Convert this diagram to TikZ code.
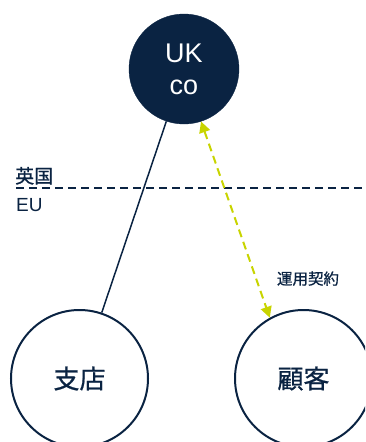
\documentclass[tikz,border=0pt]{standalone}
\usepackage{fontspec}
\setmainfont{Liberation Sans}
\newfontfamily\jp[FakeBold=0.8]{Noto Sans CJK JP}
\usetikzlibrary{arrows.meta}
\definecolor{navy}{HTML}{0A2342}
\definecolor{lime}{HTML}{C8D400}
\tikzset{
  entity/.style={circle, draw=navy, line width=2pt, inner sep=0pt, text=navy},
  company/.style={circle, fill=navy, draw=navy, inner sep=0pt, text=white, align=center, font=\fontsize{27}{32}\selectfont},
  tag/.style={text=navy, inner sep=0pt},
  link/.style={draw=navy, line width=1.5pt},
  border/.style={draw=navy, line width=1.5pt, dash pattern=on 8pt off 5pt},
  contract/.style={draw=lime, line width=2pt, dash pattern=on 8pt off 5pt, {Triangle[length=11pt,width=11pt]}-{Triangle[length=11pt,width=11pt]}}
}
\begin{document}
\begin{tikzpicture}[x=1pt,y=-1pt]
\useasboundingbox (0,0) rectangle (365,442);
\clip (0,0) rectangle (365,442);
\node[company, minimum size=110pt] (uk) at (184,69) {UK\\co};
\node[entity, minimum size=137pt, font=\jp\fontsize{26}{30}\selectfont] (shiten) at (79.5,378.5) {支店};
\node[entity, minimum size=137pt, font=\jp\fontsize{26}{30}\selectfont] (kokyaku) at (303.5,378.5) {顧客};
\coordinate (b1) at (16,188);
\coordinate (b2) at (366,188);
\draw[border] (b1) -- (b2);
\node[tag, anchor=base west, font=\jp\fontsize{19}{22}\selectfont] (uklbl) at (15,183) {英国};
\node[tag, anchor=base west, font=\fontsize{19}{22}\selectfont] (eulbl) at (16,211) {EU};
\draw[link] (uk) -- (shiten);
\draw[contract] (uk.-72) -- (kokyaku.119);
\node[tag, anchor=base, font=\jp\fontsize{15.5}{18}\selectfont] (clbl) at (308,284.5) {運用契約};
\end{tikzpicture}
\end{document}
